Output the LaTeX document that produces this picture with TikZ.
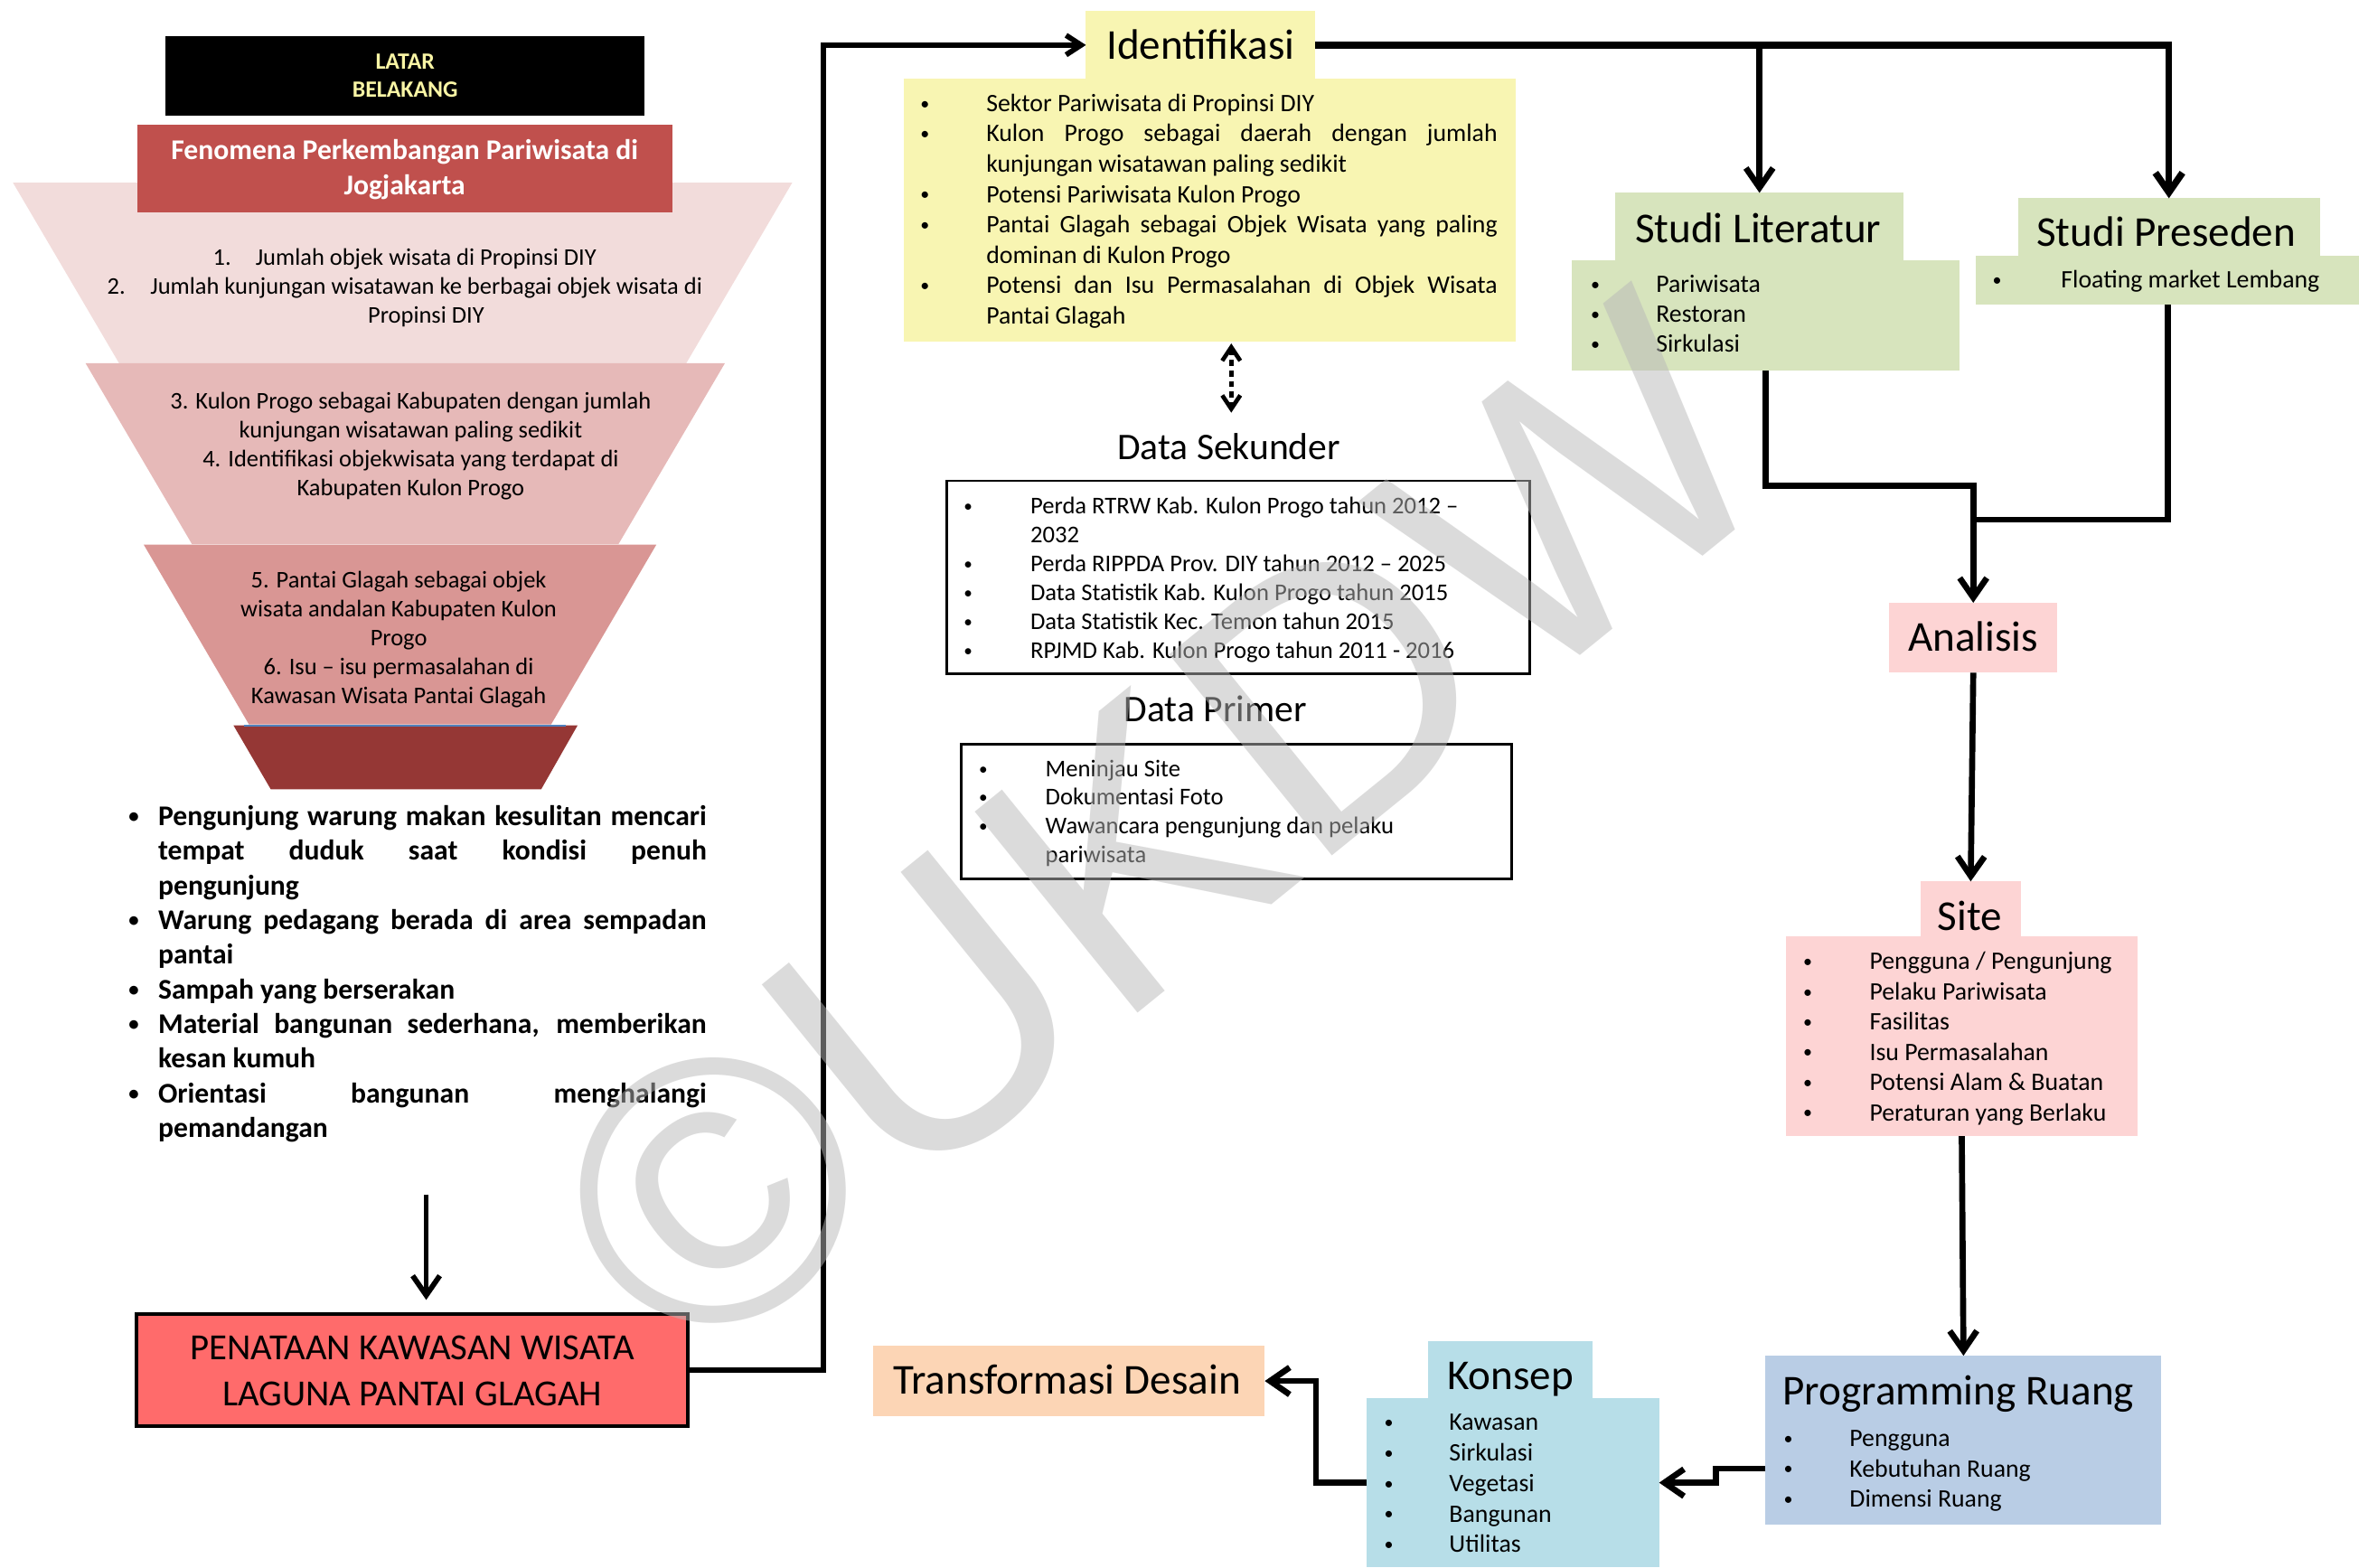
\documentclass[tikz,border=0pt]{standalone}
\usepackage{fontspec}
\setmainfont{Carlito}
\newfontfamily\wmfont{Liberation Sans}
\usetikzlibrary{arrows.meta}
\definecolor{fA}{HTML}{F2DCDB}
\definecolor{fB}{HTML}{E6B9B8}
\definecolor{fC}{HTML}{D99694}
\definecolor{fD}{HTML}{953735}
\definecolor{fenred}{HTML}{C0504D}
\definecolor{latyel}{HTML}{F9F5A5}
\definecolor{idyel}{HTML}{F8F5B2}
\definecolor{litgrn}{HTML}{D7E4BD}
\definecolor{anpink}{HTML}{FDD4D4}
\definecolor{progblue}{HTML}{B9CDE5}
\definecolor{konaqua}{HTML}{B7DEE8}
\definecolor{trorange}{HTML}{FCD5B5}
\definecolor{penred}{HTML}{FF6B6B}
\definecolor{wmgray}{HTML}{B8B8B8}
\definecolor{linkblue}{HTML}{4F81BD}
\newcommand\lst[1]{\begin{tabular}[t]{@{}l@{}}#1\end{tabular}}
\newcommand\cst[1]{\begin{tabular}[t]{@{}c@{}}#1\end{tabular}}
\newcommand\bul{\makebox[0pt]{\raisebox{0.08em}{\scalebox{0.72}{\textbullet}}}}
\newcommand\bu[2]{\bul\hspace*{#1}#2}
\newcommand\bj[3]{\bul\hspace*{#1}\makebox[#2][s]{#3}}
\newcommand\co[2]{\hspace*{#1}#2}
\newcommand\cj[3]{\hspace*{#1}\makebox[#2][s]{#3}}
\newcommand\Tfont{\fontsize{28.3}{34}\selectfont}
\newcommand\Lfont{\fontsize{16.7}{20.1}\selectfont}
\begin{document}
\begin{tikzpicture}[x=1pt,y=-1pt,
  box/.style={inner sep=0pt, outer sep=0pt, anchor=north west, draw=none},
  txt/.style={inner sep=0pt, outer sep=0pt},
  conn/.style={line width=4pt, draw=black},
  conn3/.style={line width=3.5pt, draw=black},
  dotc/.style={line width=2.8pt, draw=black, dash pattern=on 4pt off 3pt},
  >={Straight Barb[length=13pt,width=18pt]}]
\useasboundingbox (0,0) rectangle (1568,1042);

% funnel
\fill[fA] (8.6,121.4) -- (526.6,121.4) -- (456,241.7) -- (79.3,241.7) -- cycle;
\fill[fB] (56.9,241.5) -- (481.8,241.5) -- (411.1,361.7) -- (127.6,361.7) -- cycle;
\fill[fC] (95.5,362) -- (436.3,362) -- (366.3,481.6) -- (165.5,481.6) -- cycle;
\fill[fD] (155.2,482.2) -- (383.9,482.2) -- (359.7,524.7) -- (180,524.7) -- cycle;
\draw[linkblue, line width=1pt] (162,482.6) -- (376,482.6);

% boxes
\node[box, fill=black, minimum width=318.3pt, minimum height=52.7pt] (latar) at (110,24) {};
\node[box, fill=fenred, minimum width=355.6pt, minimum height=58.1pt] (fenom) at (91.4,82.9) {};
\node[box, fill=idyel, minimum width=152.4pt, minimum height=45.1pt] (identtitle) at (721.8,7.4) {};
\node[box, fill=idyel, minimum width=406.3pt, minimum height=174.4pt] (identlist) at (601,52.5) {};
\node[box, draw=black, line width=1.8pt, minimum width=387.4pt, minimum height=128.3pt] (dsek) at (629.3,319.6) {};
\node[box, draw=black, line width=1.8pt, minimum width=365.5pt, minimum height=89.7pt] (dprim) at (639,494.8) {};
\node[box, fill=litgrn, minimum width=191.8pt, minimum height=44.6pt] (littitle) at (1073.6,128.2) {};
\node[box, fill=litgrn, minimum width=257.7pt, minimum height=73.5pt] (litlist) at (1044.7,172.8) {};
\node[box, fill=litgrn, minimum width=200.5pt, minimum height=38.4pt] (prestitle) at (1341.4,131.8) {};
\node[box, fill=litgrn, minimum width=254.5pt, minimum height=32.5pt] (preslist) at (1313.5,170.2) {};
\node[box, fill=anpink, minimum width=112pt, minimum height=46.5pt] (analisis) at (1255.6,400.7) {};
\node[box, fill=anpink, minimum width=66.6pt, minimum height=36.2pt] (sitetitle) at (1276.6,585.9) {};
\node[box, fill=anpink, minimum width=233.3pt, minimum height=133.1pt] (sitelist) at (1187.3,622.1) {};
\node[box, fill=progblue, minimum width=263.2pt, minimum height=112.1pt] (prog) at (1173.5,901.2) {};
\node[box, fill=konaqua, minimum width=109.6pt, minimum height=37.6pt] (konseptitle) at (949.1,891.6) {};
\node[box, fill=konaqua, minimum width=194.3pt, minimum height=112.8pt] (konseplist) at (908.5,929.2) {};
\node[box, fill=trorange, minimum width=260.5pt, minimum height=46.4pt] (transf) at (580.2,894.8) {};
\node[box, fill=penred, draw=black, line width=2.4pt, minimum width=366pt, minimum height=74.3pt] (penataan) at (91,873.5) {};

% left texts
\node[txt, anchor=base, text=latyel, font=\bfseries\fontsize{15.5}{18.8}\selectfont] (latartxt) at (269.3,45.7) {\cst{LATAR\\BELAKANG}};
\node[txt, anchor=base, text=white, font=\bfseries\fontsize{19}{23.1}\selectfont] (fenomtxt) at (269,106.1) {\cst{Fenomena Perkembangan Pariwisata di\\Jogjakarta}};
\node[txt, anchor=base, font=\fontsize{15.9}{19.3}\selectfont] (lv1) at (269,176.2) {\cst{\makebox[28.3pt][l]{1.}Jumlah objek wisata di Propinsi DIY\\
\makebox[28.7pt][l]{2.}Jumlah kunjungan wisatawan ke berbagai objek wisata di\\
\hspace*{28.5pt}Propinsi DIY}};
\node[txt, anchor=base, font=\fontsize{15.9}{19.1}\selectfont] (lv2) at (273,272) {\cst{3. Kulon Progo sebagai Kabupaten dengan jumlah\\
kunjungan wisatawan paling sedikit\\
4. Identifikasi objekwisata yang terdapat di\\
Kabupaten Kulon Progo}};
\node[txt, anchor=base, font=\fontsize{15.9}{19.3}\selectfont] (lv3) at (265,390.5) {\cst{5. Pantai Glagah sebagai objek\\
wisata andalan Kabupaten Kulon\\
Progo\\
6. Isu – isu permasalahan di\\
Kawasan Wisata Pantai Glagah}};
\node[txt, anchor=base west, font=\bfseries\fontsize{19}{23.03}\selectfont] (boldlist) at (89,548.7) {\lst{%
\bj{16.2pt}{364.5pt}{Pengunjung warung makan kesulitan mencari}\\
\cj{16.2pt}{364.5pt}{tempat duduk saat kondisi penuh}\\
\co{16.2pt}{pengunjung}\\
\bj{16.2pt}{364.5pt}{Warung pedagang berada di area sempadan}\\
\co{16.2pt}{pantai}\\
\bu{16.2pt}{Sampah yang berserakan}\\
\bj{16.2pt}{364.5pt}{Material bangunan sederhana, memberikan}\\
\co{16.2pt}{kesan kumuh}\\
\bj{16.2pt}{364.5pt}{Orientasi bangunan menghalangi}\\
\co{16.2pt}{pemandangan}}};
\node[txt, anchor=base, font=\fontsize{24.5}{30.8}\selectfont] (penatxt) at (274,903.6) {\cst{PENATAAN KAWASAN WISATA\\LAGUNA PANTAI GLAGAH}};

% titles
\node[txt, anchor=base, font=\Tfont] (identlbl) at (798,39.1) {Identifikasi};
\node[txt, anchor=base, font=\fontsize{25}{30}\selectfont] (dseklbl) at (816.8,305.3) {Data Sekunder};
\node[txt, anchor=base, font=\fontsize{25}{30}\selectfont] (dprimlbl) at (807.8,480) {Data Primer};
\node[txt, anchor=base, font=\Tfont] (litlbl) at (1168.6,161.2) {Studi Literatur};
\node[txt, anchor=base, font=\Tfont] (preslbl) at (1439.8,163.8) {Studi Preseden};
\node[txt, anchor=base, font=\Tfont] (anlbl) at (1311.6,432.7) {Analisis};
\node[txt, anchor=base, font=\Tfont] (sitelbl) at (1309.3,618.6) {Site};
\node[txt, anchor=base west, font=\Tfont] (proglbl) at (1185,933.6) {Programming Ruang};
\node[txt, anchor=base, font=\Tfont] (konlbl) at (1004,923.6) {Konsep};
\node[txt, anchor=base, font=\Tfont] (trlbl) at (709.3,926.8) {Transformasi Desain};

% lists
\node[txt, anchor=base west, font=\fontsize{16.7}{20.16}\selectfont] (identtxt) at (614.8,74.1) {\lst{%
\bu{40.8pt}{Sektor Pariwisata di Propinsi DIY}\\
\bj{40.8pt}{339.7pt}{Kulon Progo sebagai daerah dengan jumlah}\\
\co{40.8pt}{kunjungan wisatawan paling sedikit}\\
\bu{40.8pt}{Potensi Pariwisata Kulon Progo}\\
\bj{40.8pt}{339.7pt}{Pantai Glagah sebagai Objek Wisata yang paling}\\
\co{40.8pt}{dominan di Kulon Progo}\\
\bj{40.8pt}{339.7pt}{Potensi dan Isu Permasalahan di Objek Wisata}\\
\co{40.8pt}{Pantai Glagah}}};
\node[txt, anchor=base west, font=\fontsize{16}{19.2}\selectfont] (dsektxt) at (643.5,341.5) {\lst{%
\bu{41.4pt}{Perda RTRW Kab. Kulon Progo tahun 2012 –}\\
\co{41.4pt}{2032}\\
\bu{41.4pt}{Perda RIPPDA Prov. DIY tahun 2012 – 2025}\\
\bu{41.4pt}{Data Statistik Kab. Kulon Progo tahun 2015}\\
\bu{41.4pt}{Data Statistik Kec. Temon tahun 2015}\\
\bu{41.4pt}{RPJMD Kab. Kulon Progo tahun 2011 - 2016}}};
\node[txt, anchor=base west, font=\fontsize{16}{19}\selectfont] (dprimtxt) at (653.5,516.2) {\lst{%
\bu{41.4pt}{Meninjau Site}\\
\bu{41.4pt}{Dokumentasi Foto}\\
\bu{41.4pt}{Wawancara pengunjung dan pelaku}\\
\co{41.4pt}{pariwisata}}};
\node[txt, anchor=base west, font=\fontsize{16.7}{20}\selectfont] (littxt) at (1060.4,194.2) {\lst{%
\bu{40.4pt}{Pariwisata}\\
\bu{40.4pt}{Restoran}\\
\bu{40.4pt}{Sirkulasi}}};
\node[txt, anchor=base west, font=\Lfont] (prestxt) at (1327.5,191.2) {\lst{%
\bu{42.5pt}{Floating market Lembang}}};
\node[txt, anchor=base west, font=\fontsize{16.7}{20.1}\selectfont] (sitetxt) at (1201.6,644.5) {\lst{%
\bu{41.1pt}{Pengguna / Pengunjung}\\
\bu{41.1pt}{Pelaku Pariwisata}\\
\bu{41.1pt}{Fasilitas}\\
\bu{41.1pt}{Isu Permasalahan}\\
\bu{41.1pt}{Potensi Alam \& Buatan}\\
\bu{41.1pt}{Peraturan yang Berlaku}}};
\node[txt, anchor=base west, font=\fontsize{16.7}{20}\selectfont] (progtxt) at (1188.6,961.7) {\lst{%
\bu{40.8pt}{Pengguna}\\
\bu{40.8pt}{Kebutuhan Ruang}\\
\bu{40.8pt}{Dimensi Ruang}}};
\node[txt, anchor=base west, font=\fontsize{16.7}{20.3}\selectfont] (kontxt) at (923.1,950.8) {\lst{%
\bu{40.2pt}{Kawasan}\\
\bu{40.2pt}{Sirkulasi}\\
\bu{40.2pt}{Vegetasi}\\
\bu{40.2pt}{Bangunan}\\
\bu{40.2pt}{Utilitas}}};

% connectors
\coordinate (blend) at (283.3,794);
\coordinate (penin) at (283.3,864.1);
\draw[conn3, ->] (blend) -- (penin);
\draw[conn3, -{Straight Barb[length=10pt,width=13pt]}] (penataan.east) -- ++(90.5,0) |- (identtitle.west);
\draw[conn, line width=4.5pt, ->] (identtitle.east) -| (prestitle.north);
\draw[conn, ->] (identtitle.east -| littitle.north) -- (littitle.north);
\coordinate (dA) at (818.4,228.3);
\coordinate (dB) at (818.4,274.3);
\draw[dotc, {Straight Barb[length=9pt,width=12pt]}-{Straight Barb[length=9pt,width=12pt]}] (dA) -- (dB);
\draw[conn, ->] (litlist.south) -- ++(0,76.8) -| (analisis.north);
\coordinate (jn) at (1311.6,345.5);
\draw[conn] (preslist.south) |- (jn);
\draw[conn, ->] (analisis.south) -- (sitetitle.north);
\draw[conn, ->] (sitelist.south) -- (prog.north);
\draw[conn, ->] ([yshift=-19pt]prog.west) -- ++(-32.9,0) |- (konseplist.east);
\draw[conn, ->] (konseplist.west) -- ++(-33.7,0) |- (transf.east);

% watermark
\node[txt, rotate=39, text=wmgray, text opacity=0.5, fill opacity=0.5, font=\wmfont\fontsize{250}{250}\selectfont] (wm) at (771,551) {©UKDW};
\end{tikzpicture}
\end{document}
